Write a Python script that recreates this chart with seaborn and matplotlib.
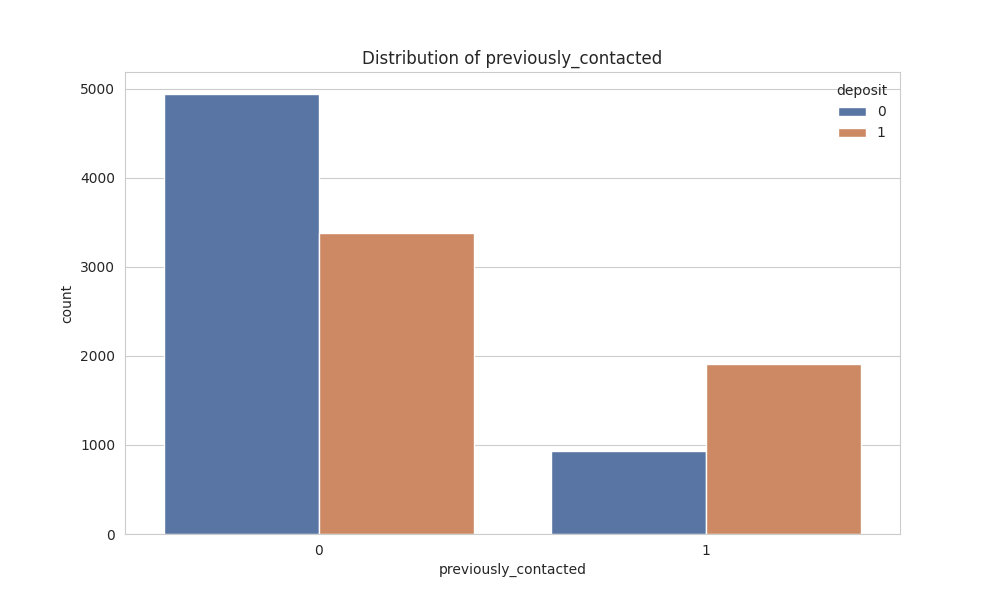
import pandas as pd
import matplotlib
matplotlib.use("Agg")
import matplotlib.pyplot as plt
import seaborn as sns

# counts
previously_contacted = ["0", "0", "1", "1"]
deposit = ["0", "1", "0", "1"]
counts = [4940, 3384, 933, 1905]

df = pd.DataFrame({
    "previously_contacted": previously_contacted,
    "deposit": deposit,
    "count": counts,
})

sns.set_style("whitegrid")
fig, ax = plt.subplots(figsize=(10, 6), dpi=100)
sns.barplot(data=df, x="previously_contacted", y="count", hue="deposit",
            palette="deep", ax=ax)
ax.set_title("Distribution of previously_contacted")
ax.set_xlabel("previously_contacted")
ax.set_ylabel("count")
ax.legend(title="deposit", frameon=False, loc="upper right")
plt.savefig("out.png", dpi=100)
